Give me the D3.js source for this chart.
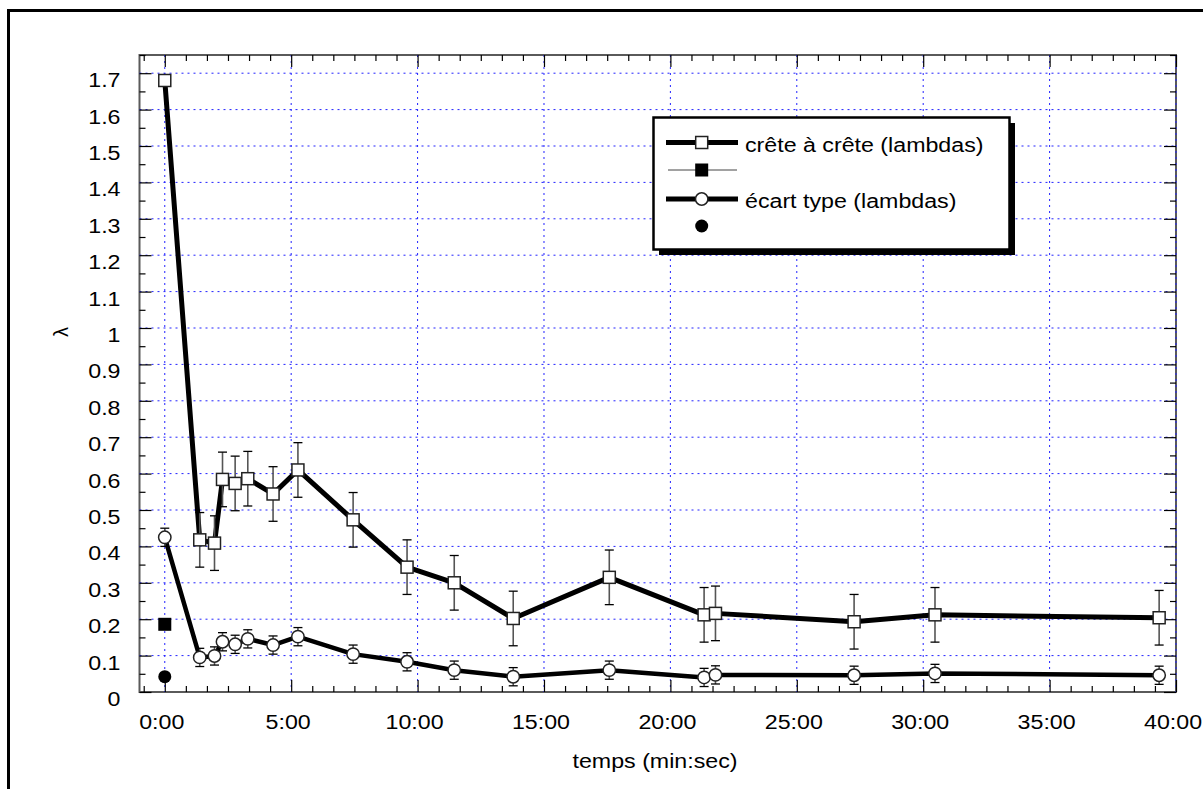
<!DOCTYPE html>
<html>
<head>
<meta charset="utf-8">
<script src="https://cdn.jsdelivr.net/npm/d3@7"></script>
<style>
  html, body { margin: 0; padding: 0; background: #fff; overflow: hidden; }
  svg text { font-family: 'Liberation Sans', Arial, Helvetica, sans-serif; fill: #000; }
</style>
</head>
<body>
<svg id="chart" width="1203" height="789"></svg>
<script>
// Measurement times (min:sec) shared by both series
const times = ["0:00", "1:23", "1:58", "2:17", "2:47", "3:17", "4:17", "5:16", "7:27",
               "9:35", "11:27", "13:47", "17:35", "21:20", "21:47", "27:16", "30:28", "39:20"];

// Peak-to-peak amplitude (lambdas) and its uncertainty
const creteValues = [1.68, 0.418, 0.409, 0.584, 0.573, 0.586, 0.544, 0.610, 0.473,
                     0.343, 0.300, 0.202, 0.315, 0.212, 0.216, 0.193, 0.212, 0.204];
const creteErrors = [0, 0.075, 0.075, 0.075, 0.075, 0.075, 0.075, 0.075, 0.075,
                     0.075, 0.075, 0.075, 0.075, 0.075, 0.075, 0.075, 0.075, 0.075];

// Standard deviation (lambdas) and its uncertainty
const ecartValues = [0.425, 0.095, 0.099, 0.138, 0.131, 0.146, 0.129, 0.152, 0.104,
                     0.083, 0.060, 0.042, 0.060, 0.040, 0.047, 0.046, 0.051, 0.046];
const ecartErrors = [0.025, 0.025, 0.025, 0.025, 0.025, 0.025, 0.025, 0.025, 0.025,
                     0.025, 0.025, 0.025, 0.025, 0.025, 0.025, 0.025, 0.025, 0.025];

// Reference measurements (filled markers)
const refCreteTime = "0:00", refCreteValue = 0.186;
const refEcartTime = "0:00", refEcartValue = 0.042;

// Axis tick labels
const xTickLabels = ["0:00", "5:00", "10:00", "15:00", "20:00", "25:00", "30:00", "35:00", "40:00"];
const yTickLabels = ["0", "0.1", "0.2", "0.3", "0.4", "0.5", "0.6", "0.7", "0.8", "0.9",
                     "1", "1.1", "1.2", "1.3", "1.4", "1.5", "1.6", "1.7"];

const legendLabels = ["crête à crête (lambdas)", "", "écart type (lambdas)", ""];

// ---------------------------------------------------------------------------
const toSec = s => { const [m, ss] = s.split(":").map(Number); return m * 60 + ss; };
const SX = 1.19;      // horizontal stretch of the lettering
const FS = 19.5;      // font size

const svg = d3.select("#chart");

const x = d3.scaleLinear().domain([-60, 2400]).range([139.5, 1176]);
const y = d3.scaleLinear().domain([0, 1.75]).range([692, 55]);

const crete = times.map((t, i) => ({ t: toSec(t), v: creteValues[i], e: creteErrors[i] }));
const ecart = times.map((t, i) => ({ t: toSec(t), v: ecartValues[i], e: ecartErrors[i] }));

// Outer frame
svg.append("rect")
  .attr("x", 8.5).attr("y", 10.5).attr("width", 1260).attr("height", 860)
  .attr("fill", "none").attr("stroke", "#000").attr("stroke-width", 3);

// Plot frame
const [x0, x1] = x.range();
const [yb, yt] = y.range();
svg.append("rect")
  .attr("x", x0).attr("y", yt).attr("width", x1 - x0).attr("height", yb - yt)
  .attr("fill", "none").attr("stroke", "#5a5a5a").attr("stroke-width", 2);

// Grid
const xMajor = xTickLabels.map(toSec);
const yMajor = yTickLabels.map(Number);
const grid = svg.append("g")
  .attr("stroke", "#2222ff").attr("stroke-width", 1).attr("stroke-dasharray", "2,4");
grid.selectAll("line.gx").data(xMajor).join("line").attr("class", "gx")
  .attr("x1", d => x(d)).attr("x2", d => x(d)).attr("y1", yt).attr("y2", yb);
grid.selectAll("line.gy").data(yMajor.filter(v => v > 0)).join("line").attr("class", "gy")
  .attr("x1", x0).attr("x2", x1).attr("y1", d => y(d)).attr("y2", d => y(d));

// Ticks (all inward)
const xMinor = d3.range(-50, 2401, 50).filter(s => s % 300 !== 0);
const yMinor = d3.range(1, 36).map(k => k * 0.05).filter((v, i) => i % 2 === 0);
const tickStyle = g => {
  g.select(".domain").remove();
  g.selectAll(".tick line").attr("stroke", "#000").attr("stroke-width", 1.2);
};

// Bottom
svg.append("g").attr("transform", `translate(0,${yb})`)
  .call(d3.axisBottom(x).tickValues(xMinor).tickSize(-6).tickFormat(""))
  .call(tickStyle);
const bottomAxis = svg.append("g").attr("transform", `translate(0,${yb})`)
  .call(d3.axisBottom(x).tickValues(xMajor).tickSize(-12).tickFormat((d, i) => xTickLabels[i]))
  .call(tickStyle);
bottomAxis.selectAll(".tick text")
  .attr("font-size", FS).attr("font-family", null)
  .attr("x", -3.5 / SX).attr("y", 37).attr("dy", 0)
  .attr("transform", `scale(${SX},1)`);

// Top
svg.append("g").attr("transform", `translate(0,${yt})`)
  .call(d3.axisTop(x).tickValues(xMinor).tickSize(-6).tickFormat(""))
  .call(tickStyle);
svg.append("g").attr("transform", `translate(0,${yt})`)
  .call(d3.axisTop(x).tickValues(xMajor).tickSize(-12).tickFormat(""))
  .call(tickStyle);

// Left
svg.append("g").attr("transform", `translate(${x0},0)`)
  .call(d3.axisLeft(y).tickValues(yMinor).tickSize(-6).tickFormat(""))
  .call(tickStyle);
const leftAxis = svg.append("g").attr("transform", `translate(${x0},0)`)
  .call(d3.axisLeft(y).tickValues(yMajor).tickSize(-12).tickFormat((d, i) => yTickLabels[i]))
  .call(tickStyle);
leftAxis.selectAll(".tick text")
  .attr("font-size", FS).attr("font-family", null)
  .attr("x", (120.5 - x0) / SX).attr("y", 13.5).attr("dy", 0)
  .attr("text-anchor", "end")
  .attr("transform", `scale(${SX},1)`);

// Right
svg.append("g").attr("transform", `translate(${x1},0)`)
  .call(d3.axisRight(y).tickValues(yMinor).tickSize(-6).tickFormat(""))
  .call(tickStyle);
svg.append("g").attr("transform", `translate(${x1},0)`)
  .call(d3.axisRight(y).tickValues(yMajor).tickSize(-12).tickFormat(""))
  .call(tickStyle);

// Axis titles
svg.append("text")
  .attr("transform", `translate(655,768) scale(${SX},1)`)
  .attr("text-anchor", "middle").attr("font-size", FS)
  .text("temps (min:sec)");
svg.append("text")
  .attr("transform", "translate(68,332) rotate(-90)")
  .attr("text-anchor", "middle").attr("font-size", 20)
  .text("λ");

// Series lines
const line = d3.line().x(d => x(d.t)).y(d => y(d.v));
svg.append("path").datum(crete).attr("d", line)
  .attr("fill", "none").attr("stroke", "#000").attr("stroke-width", 5)
  .attr("stroke-linejoin", "round");
svg.append("path").datum(ecart).attr("d", line)
  .attr("fill", "none").attr("stroke", "#000").attr("stroke-width", 4.5)
  .attr("stroke-linejoin", "round");

// Error bars
function errorBars(data, cap) {
  const g = svg.append("g");
  const d2 = data.filter(d => d.e > 0);
  g.selectAll("line.stem").data(d2).join("line").attr("class", "stem")
    .attr("x1", d => x(d.t)).attr("x2", d => x(d.t))
    .attr("y1", d => y(d.v + d.e)).attr("y2", d => y(d.v - d.e))
    .attr("stroke", "#555").attr("stroke-width", 1.6);
  ["+", "-"].forEach(sgn => {
    g.selectAll(`line.cap${sgn === "+" ? "u" : "d"}`).data(d2).join("line")
      .attr("class", `cap${sgn === "+" ? "u" : "d"}`)
      .attr("x1", d => x(d.t) - cap).attr("x2", d => x(d.t) + cap)
      .attr("y1", d => y(sgn === "+" ? d.v + d.e : d.v - d.e))
      .attr("y2", d => y(sgn === "+" ? d.v + d.e : d.v - d.e))
      .attr("stroke", "#000").attr("stroke-width", 1.3);
  });
}
errorBars(crete, 4.5);
errorBars(ecart, 4.5);

// Markers
svg.append("g").selectAll("rect").data(crete).join("rect")
  .attr("x", d => x(d.t) - 6).attr("y", d => y(d.v) - 6)
  .attr("width", 12).attr("height", 12)
  .attr("fill", "#fff").attr("stroke", "#222").attr("stroke-width", 1.5);
svg.append("g").selectAll("circle").data(ecart).join("circle")
  .attr("cx", d => x(d.t)).attr("cy", d => y(d.v)).attr("r", 6.2)
  .attr("fill", "#fff").attr("stroke", "#222").attr("stroke-width", 1.5);

// Reference points
svg.append("rect")
  .attr("x", x(toSec(refCreteTime)) - 6.5).attr("y", y(refCreteValue) - 6.5)
  .attr("width", 13).attr("height", 13).attr("fill", "#000");
svg.append("circle")
  .attr("cx", x(toSec(refEcartTime))).attr("cy", y(refEcartValue)).attr("r", 6.5)
  .attr("fill", "#000");

// Legend
const lg = svg.append("g");
lg.append("rect").attr("x", 659).attr("y", 123).attr("width", 356).attr("height", 132).attr("fill", "#000");
lg.append("rect").attr("x", 653.5).attr("y", 117.5).attr("width", 356).attr("height", 132)
  .attr("fill", "#fff").attr("stroke", "#000").attr("stroke-width", 2.5);

const rowsY = [142.5, 170, 199, 226];
const mx = 701.7;
// row 1
lg.append("line").attr("x1", 666).attr("x2", 738).attr("y1", rowsY[0]).attr("y2", rowsY[0])
  .attr("stroke", "#000").attr("stroke-width", 5);
lg.append("rect").attr("x", mx - 6).attr("y", rowsY[0] - 6).attr("width", 12).attr("height", 12)
  .attr("fill", "#fff").attr("stroke", "#222").attr("stroke-width", 1.5);
// row 2
lg.append("line").attr("x1", 668).attr("x2", 737).attr("y1", rowsY[1]).attr("y2", rowsY[1])
  .attr("stroke", "#444").attr("stroke-width", 1);
lg.append("rect").attr("x", mx - 6.5).attr("y", rowsY[1] - 6.5).attr("width", 13).attr("height", 13)
  .attr("fill", "#000");
// row 3
lg.append("line").attr("x1", 666).attr("x2", 738).attr("y1", rowsY[2]).attr("y2", rowsY[2])
  .attr("stroke", "#000").attr("stroke-width", 5);
lg.append("circle").attr("cx", mx).attr("cy", rowsY[2]).attr("r", 6.2)
  .attr("fill", "#fff").attr("stroke", "#222").attr("stroke-width", 1.5);
// row 4
lg.append("circle").attr("cx", mx).attr("cy", rowsY[3]).attr("r", 6.5).attr("fill", "#000");

lg.selectAll("text").data(legendLabels).join("text")
  .attr("transform", (d, i) => `translate(745,${rowsY[i] + 9.3}) scale(${SX},1)`)
  .attr("font-size", FS)
  .text(d => d);
</script>
</body>
</html>
